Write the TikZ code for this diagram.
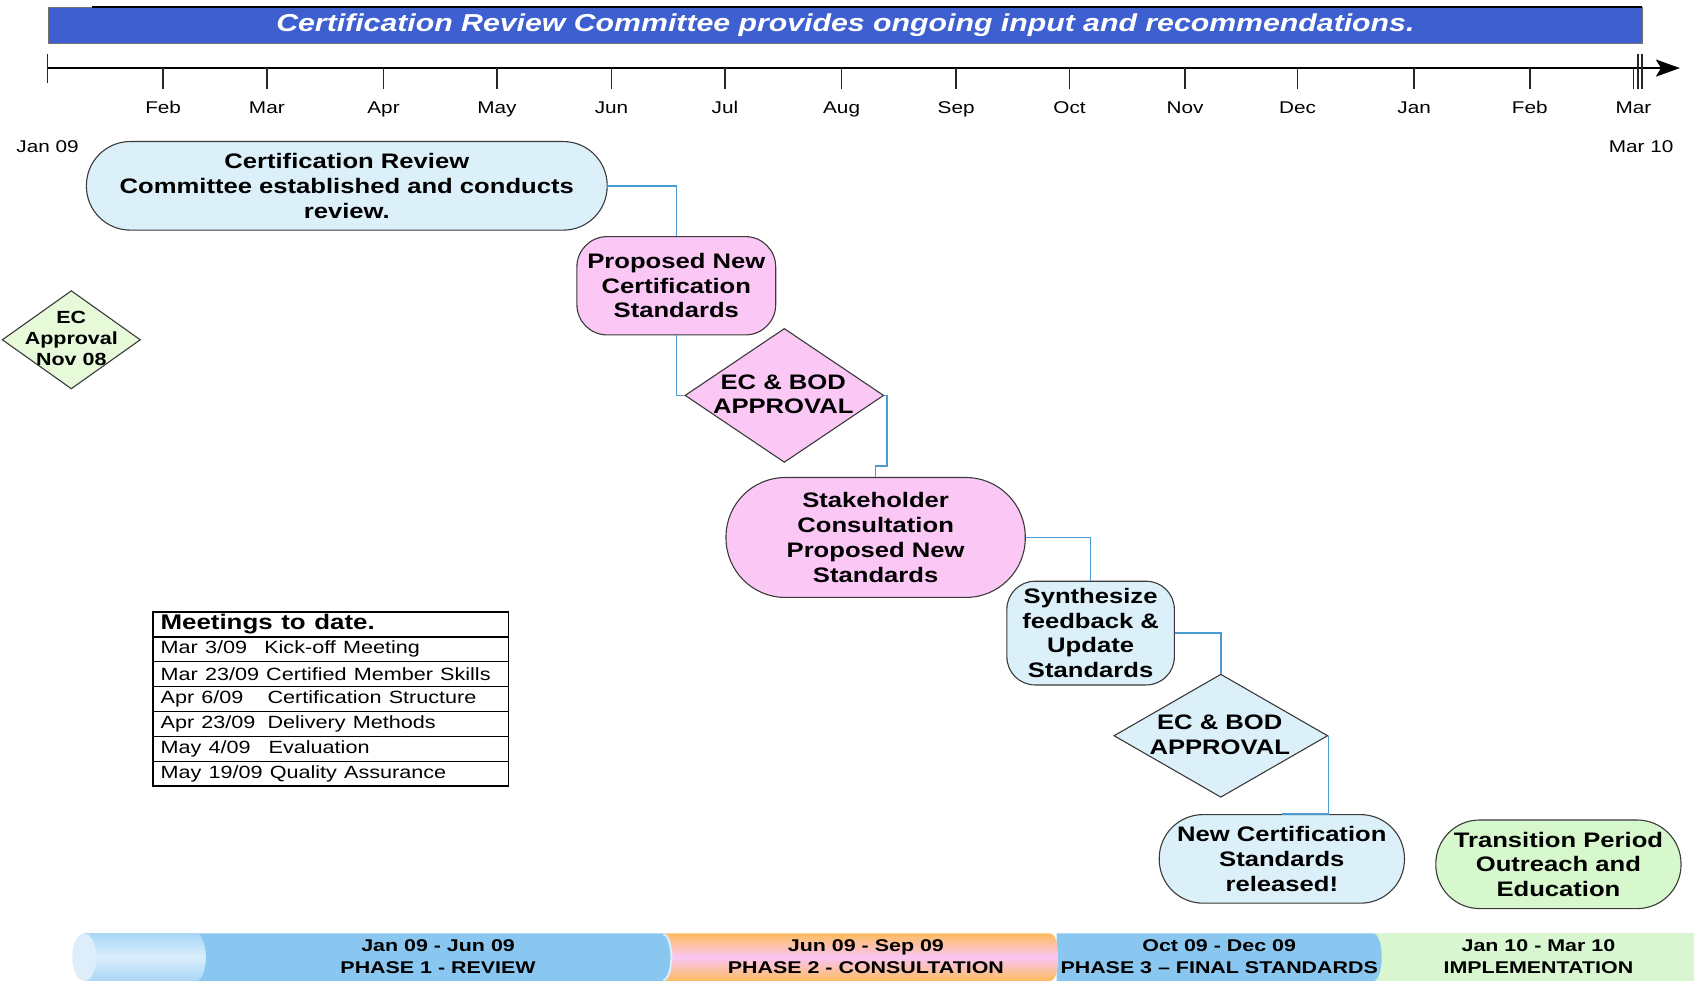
\documentclass[tikz,border=0pt]{standalone}
\usepackage{fontspec}
\setmainfont{Liberation Sans}
\usetikzlibrary{shapes.geometric,arrows.meta,calc}
\definecolor{bannerblue}{HTML}{3D5FCF}
\definecolor{edge}{HTML}{3A3A3A}
\definecolor{nodeblue}{HTML}{DCF0FA}
\definecolor{nodepink}{HTML}{FBC8F6}
\definecolor{nodegreen}{HTML}{D7F7CD}
\definecolor{ecgreen}{HTML}{E6F9D9}
\definecolor{connblue}{HTML}{4A9AD4}
\definecolor{pblue}{HTML}{8AC7F0}
\definecolor{porange}{HTML}{FDBC5E}
\definecolor{ppink}{HTML}{FAC6F4}
\definecolor{pgreen}{HTML}{D8F7D0}
\definecolor{hlA}{HTML}{A9D6F5}
\definecolor{hlB}{HTML}{DAEEFC}
\definecolor{face}{HTML}{DDEDF9}
\begin{document}
\begin{tikzpicture}[x=1.0804pt,y=-1.0804pt,
  W/.style={minimum width=#1*0.8856pt},
  H/.style={minimum height=#1*1.0804pt},
  txt/.style={xscale=1.22, inner sep=0pt, align=center},
  big/.style={font=\fontsize{21}{24.7}\selectfont\bfseries},
  shapebox/.style={draw=edge, line width=1.1pt, txt, big},
  stadium/.style 2 args={shapebox, W=#1, H=#2, rounded corners=#2*0.535pt},
  rbox/.style n args={3}{shapebox, W=#1, H=#2, rounded corners=#3*1.0804pt},
  diam/.style 2 args={diamond, draw=edge, line width=1.1pt, inner sep=0pt, minimum width=#1*1.0804pt, minimum height=#2*1.0804pt},
  dtext/.style={txt, big},
  conn/.style={draw=connblue, line width=1.6pt},
  month/.style={txt, anchor=base, font=\fontsize{17}{19}\selectfont},
  tick/.style={draw=black!85, line width=1.5pt},
  trow/.style={draw=black, line width=1.2pt, txt, anchor=north west, H=23, text width=278.96pt, inner xsep=6.2pt, align=left, font=\fontsize{17.7}{20}\selectfont},
  phasetext/.style={xscale=1.26, inner sep=0pt, align=center, font=\fontsize{17}{22.7}\selectfont\bfseries}
]
\fill[white] (0,0) rectangle (1568,908);
\useasboundingbox (0,0) rectangle (1568,908);

% banner
\node[draw=black!55, line width=1pt, fill=bannerblue, xscale=1.235, inner sep=0pt, minimum width=1475*0.8748pt, H=33, text=white,
  font=\fontsize{24.5}{27}\selectfont\bfseries\itshape] (ban) at (782.5,23.5)
  {Certification Review Committee provides ongoing input and recommendations.};
\draw[black, line width=1.2pt] (85,6.5) -- (1520,6.5);

% time axis
\coordinate (ax0) at (44,63);
\coordinate (ax1) at (1555,63);
\draw[line width=2pt, -{Stealth[length=24pt,width=17pt,inset=5pt]}] (ax0) -- (ax1);
\draw[tick] (44,50) -- (44,77);
\draw[tick] (1516,50) -- (1516,82);
\draw[tick] (1520,50) -- (1520,82);
\foreach \x/\m in {151/Feb,247/Mar,355/Apr,460/May,566/Jun,671/Jul,779/Aug,885/Sep,990/Oct,1097/Nov,1201/Dec,1309/Jan,1416/Feb,1512/Mar}{
  \draw[tick] (\x,63) -- (\x,82);
  \node[month] (m\x) at (\x,105.5) {\m};
}
\node[month] (jan09) at (44,141) {Jan 09};
\node[month] (mar10) at (1519,141) {Mar 10};

% process nodes
\node[stadium={482}{82}, fill=nodeblue] (crc) at (321,172)
  {Certification Review\\Committee established and conducts\\review.};
\node[rbox={184}{91}{28}, fill=nodepink] (pns) at (626,264.5)
  {Proposed New\\Certification\\Standards};
\node[diam={184}{124}, fill=nodepink] (d1) at (726,366) {};
\node[dtext] (d1t) at (725,365) {EC \& BOD\\APPROVAL};
\node[stadium={277}{111}, fill=nodepink] (st) at (810.5,497.5)
  {Stakeholder\\Consultation\\Proposed New\\Standards};
\node[rbox={155}{96}{26}, fill=nodeblue] (sy) at (1009.5,586)
  {Synthesize\\feedback \&\\Update\\Standards};
\node[diam={198}{114}, fill=nodeblue] (d2) at (1130,681) {};
\node[dtext] (d2t) at (1129,680) {EC \& BOD\\APPROVAL};
\node[stadium={227}{82}, fill=nodeblue] (nc) at (1186.5,795)
  {New Certification\\Standards\\released!};
\node[stadium={227}{82}, fill=nodegreen] (tp) at (1442.5,800)
  {Transition Period\\Outreach and\\Education};

% EC approval Nov 08
\node[diam={128}{91}, fill=ecgreen] (ec) at (66,314.5) {};
\node[txt, font=\fontsize{17.6}{21}\selectfont\bfseries] (ect) at (66,313.5) {EC\\Approval\\Nov 08};

% connectors
\draw[conn] (crc.east) -| (pns.north);
\draw[conn] (pns.south) |- (d1.west);
\draw[conn] (d1.east) -| ($(st.north)+(10.5,-10)$) -| (st.north);
\draw[conn] (st.east) -| (sy.north);
\draw[conn] (sy.east) -| (d2.north);
\draw[conn] (d2.east) |- (nc.north);

% meetings table
\node[trow, font=\fontsize{21.2}{24}\selectfont\bfseries] (t0) at (141,566) {Meetings to date.};
\node[trow] (t1) at (141,589) {\makebox[85pt][l]{Mar 3/09}Kick-off Meeting};
\node[trow] (t2) at (141,612) {Mar 23/09 Certified Member Skills};
\node[trow] (t3) at (141,635) {\makebox[87.7pt][l]{Apr 6/09}Certification Structure};
\node[trow] (t4) at (141,658) {\makebox[87.7pt][l]{Apr 23/09}Delivery Methods};
\node[trow] (t5) at (141,681) {\makebox[88.6pt][l]{May 4/09}Evaluation};
\node[trow] (t6) at (141,704) {May 19/09 Quality Assurance};

% phase bar (drawn right to left so each rounded end overlaps the next)
\fill[pgreen] (1271,864) rectangle (1568,908);
\fill[pblue] (978,864) -- (1271,864) arc[start angle=90,end angle=-90,x radius=8.6pt,y radius=23.77pt] -- (978,908) -- cycle;
\shade[top color=porange, bottom color=porange, middle color=ppink]
  (614,864) -- (972,864) arc[start angle=90,end angle=-90,x radius=8.6pt,y radius=23.77pt] -- (614,908) -- cycle;
\fill[pblue] (78,864) -- (614,864) arc[start angle=90,end angle=-90,x radius=8.6pt,y radius=23.77pt] -- (78,908) -- cycle;
\draw[hlB, line width=2pt] (614,864.8) arc[start angle=90,end angle=-90,x radius=8pt,y radius=22.9pt];
\shade[top color=hlA, bottom color=hlA, middle color=hlB]
  (78,864) -- (182,864) arc[start angle=90,end angle=-90,x radius=9pt,y radius=23.77pt] -- (78,908) -- cycle;
\fill[face] (78,886) ellipse[x radius=12pt, y radius=23.77pt];

\node[phasetext] (p1) at (405.5,885.5) {Jan 09 - Jun 09\\PHASE 1 - REVIEW};
\node[phasetext] (p2) at (801.5,885.5) {Jun 09 - Sep 09\\PHASE 2 - CONSULTATION};
\node[phasetext] (p3) at (1128.5,885.5) {Oct 09 - Dec 09\\PHASE 3 – FINAL STANDARDS};
\node[phasetext] (p4) at (1424,885.5) {Jan 10 - Mar 10\\IMPLEMENTATION};
\end{tikzpicture}
\end{document}
